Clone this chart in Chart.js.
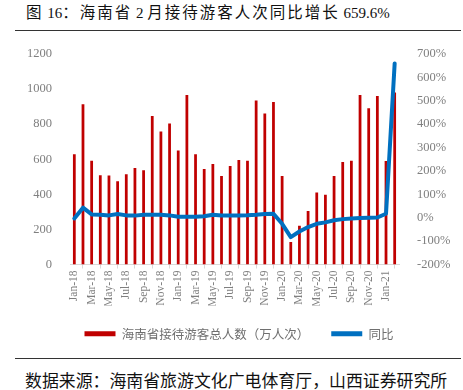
<!DOCTYPE html>
<html>
<head>
<meta charset="utf-8">
<script src="https://cdn.jsdelivr.net/npm/chart.js@4/dist/chart.umd.min.js"></script>
<style>
  html, body { margin: 0; padding: 0; background: #fff; }
  body { width: 463px; height: 390px; position: relative; overflow: hidden; }
  #title { position: absolute; left: 26px; top: 0px; font-family: "Liberation Serif", serif; font-size: 15px; color: #111; white-space: nowrap; }
  #title .cjk { font-family: "Noto Sans CJK SC", sans-serif; font-size: 15.5px; letter-spacing: 2px; }
  .rule { position: absolute; left: 15px; width: 446px; height: 1px; background: #333; }
  #source { position: absolute; left: 25px; top: 367px; font-family: "Noto Sans CJK SC", sans-serif; font-size: 16.9px; color: #111; white-space: nowrap; }
  #wrap { position: absolute; left: 0; top: 35px; width: 463px; height: 315px; }
</style>
</head>
<body>
<div id="title"><span class="cjk">图</span> 16<span class="cjk">：海南省</span> 2 <span class="cjk">月接待游客人次同比增长</span> 659.6%</div>
<div class="rule" style="top:30px"></div>
<div id="wrap"><canvas id="c" width="463" height="315"></canvas></div>
<div class="rule" style="top:358px"></div>
<div id="source">数据来源：海南省旅游文化广电体育厅，山西证券研究所</div>
<script>
const months = ["Jan-18","Feb-18","Mar-18","Apr-18","May-18","Jun-18","Jul-18","Aug-18","Sep-18","Oct-18","Nov-18","Dec-18",
  "Jan-19","Feb-19","Mar-19","Apr-19","May-19","Jun-19","Jul-19","Aug-19","Sep-19","Oct-19","Nov-19","Dec-19",
  "Jan-20","Feb-20","Mar-20","Apr-20","May-20","Jun-20","Jul-20","Aug-20","Sep-20","Oct-20","Nov-20","Dec-20",
  "Jan-21","Feb-21"];
const visitors = [629,914,592,509,507,474,514,550,537,846,758,804,
  650,966,629,545,573,505,562,596,592,935,861,926,
  505,128,221,305,410,398,505,585,592,966,891,960,
  590,981];
const yoy = [-3,43,14,13,10,16,10,9,13,13,13,10,
  4,4,4,6,13,10,10,10,11,13,16,17,
  -26,-83,-59,-40,-26,-20,-11,-6,-3,-1,0,1,
  17,659.6];
const leftTicks = [0,200,400,600,800,1000,1200];
const rightTicks = [-200,-100,0,100,200,300,400,500,600,700];

const axisFont = { family: "Liberation Serif", size: 12.5 };
const gray = "#7f7f7f";

new Chart(document.getElementById("c"), {
  data: {
    labels: months,
    datasets: [
      { type: "line", label: "同比", data: yoy, yAxisID: "y2", borderColor: "#0070C0", backgroundColor: "#0070C0",
        borderWidth: 4, pointRadius: 0, tension: 0, borderCapStyle: "round", borderJoinStyle: "round", order: 0 },
      { type: "bar", label: "海南省接待游客总人数（万人次）", data: visitors, yAxisID: "y", backgroundColor: "#C00000",
        barPercentage: 0.32, categoryPercentage: 1, order: 1 }
    ]
  },
  options: {
    responsive: false,
    animation: false,
    layout: { padding: { top: 19, left: 15, right: 0, bottom: 0 } },
    plugins: {
      tooltip: { enabled: false },
      legend: {
        position: "bottom",
        reverse: true,
        labels: { boxWidth: 31, boxHeight: 5, padding: 22, color: "#6f6f6f",
          font: { family: "Noto Sans CJK SC", size: 12.5 },
          generateLabels: function(chart) {
            const items = Chart.defaults.plugins.legend.labels.generateLabels(chart);
            items.forEach(it => { it.lineWidth = 0; it.strokeStyle = it.fillStyle; });
            return items;
          } }
      }
    },
    scales: {
      x: {
        grid: { display: true, offset: true, drawOnChartArea: false, drawTicks: true, tickLength: 4, color: "#d9d9d9" },
        border: { display: true, color: "#d9d9d9" },
        ticks: { autoSkip: false, maxRotation: 90, minRotation: 90, color: gray, font: { family: "Liberation Serif", size: 11.5 }, padding: 2,
          callback: function(v, i) { return i % 2 === 0 ? months[i] : null; } },
        afterFit: function(s) { s.height = 41; }
      },
      y: {
        position: "left", min: 0, max: 1200,
        grid: { display: false },
        border: { display: false },
        afterBuildTicks: function(s) { s.ticks = leftTicks.map(v => ({ value: v })); },
        ticks: { color: gray, font: axisFont, padding: 10, callback: v => String(v) },
        afterFit: function(s) { s.width = 55; }
      },
      y2: {
        position: "right", min: -200, max: 700,
        grid: { display: false },
        border: { display: false },
        afterBuildTicks: function(s) { s.ticks = rightTicks.map(v => ({ value: v })); },
        ticks: { color: gray, font: axisFont, padding: 10, callback: v => v + "%" },
        afterFit: function(s) { s.width = 64; }
      }
    }
  }
});
</script>
</body>
</html>
